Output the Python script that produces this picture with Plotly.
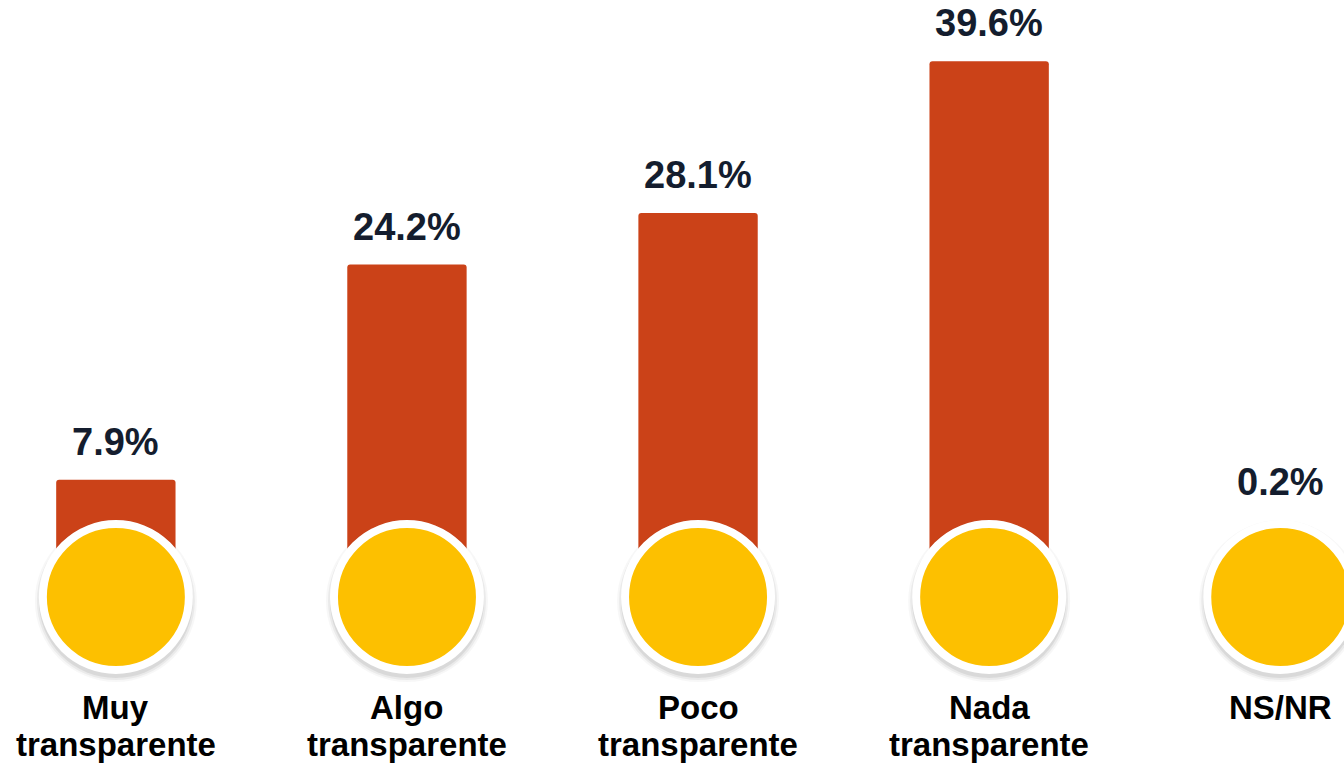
import plotly.graph_objects as go

categories = ['Muy transparente', 'Algo transparente', 'Poco transparente',
              'Nada transparente', 'NS/NR']
label_lines = [['Muy', 'transparente'], ['Algo', 'transparente'], ['Poco', 'transparente'],
               ['Nada', 'transparente'], ['NS/NR']]
values = [7.9, 24.2, 28.1, 39.6, 0.2]
value_labels = ['7.9%', '24.2%', '28.1%', '39.6%', '0.2%']

BAR_COLOR = '#CB4218'
DOT_COLOR = '#FDC000'
TEXT_COLOR = '#141D2E'
FONT = 'Liberation Sans, Arial, sans-serif'

# pixel mapping: 0 -> y=584px, 13.2 px per percentage point, plot fills the page
px_per_unit = 13.2
zero_px = 584
H = 763
ymin = -(H - zero_px) / px_per_unit
ymax = zero_px / px_per_unit

def px_to_val(p):
    return (zero_px - p) / px_per_unit

DOT_Y = px_to_val(597)
DOT_TOP = px_to_val(520)

fig = go.Figure()

fig.add_trace(go.Bar(
    x=categories, y=values,
    marker=dict(color=BAR_COLOR, line_width=0),
    width=0.41,
    hoverinfo='skip'))

# soft shadow under the circles
for size, alpha in [(162, 0.03), (158, 0.05), (154, 0.07)]:
    fig.add_trace(go.Scatter(
        x=categories, y=[px_to_val(601)] * len(categories),
        mode='markers',
        marker=dict(size=size, color='rgba(0,0,0,%s)' % alpha, line_width=0),
        hoverinfo='skip'))

fig.add_trace(go.Scatter(
    x=categories, y=[DOT_Y] * len(categories),
    mode='markers',
    marker=dict(size=146, color=DOT_COLOR, line=dict(color='white', width=8)),
    hoverinfo='skip'))

for cat, v, lab, lines in zip(categories, values, value_labels, label_lines):
    # keep the value label clear of the circle for tiny bars
    fig.add_annotation(x=cat, y=max(v, DOT_TOP), text='<b>%s</b>' % lab, showarrow=False,
                       yanchor='bottom', yshift=15,
                       font=dict(family=FONT, size=38, color=TEXT_COLOR))
    for i, line in enumerate(lines):
        fig.add_annotation(x=cat, y=px_to_val(707 + 37 * i), text='<b>%s</b>' % line,
                           showarrow=False, yanchor='middle',
                           font=dict(family=FONT, size=33, color='black'))

fig.update_layout(
    width=1344, height=763,
    margin=dict(l=0, r=0, t=0, b=0),
    plot_bgcolor='white', paper_bgcolor='white',
    showlegend=False,
    barcornerradius=3,
    xaxis=dict(range=[-0.398, 4.219], showticklabels=False, showgrid=False,
               zeroline=False, showline=False),
    yaxis=dict(range=[ymin, ymax], showticklabels=False, showgrid=False,
               zeroline=False, showline=False),
)

fig.write_html('out.html', config={'displayModeBar': False},
               post_script="document.body.style.margin='0';")
